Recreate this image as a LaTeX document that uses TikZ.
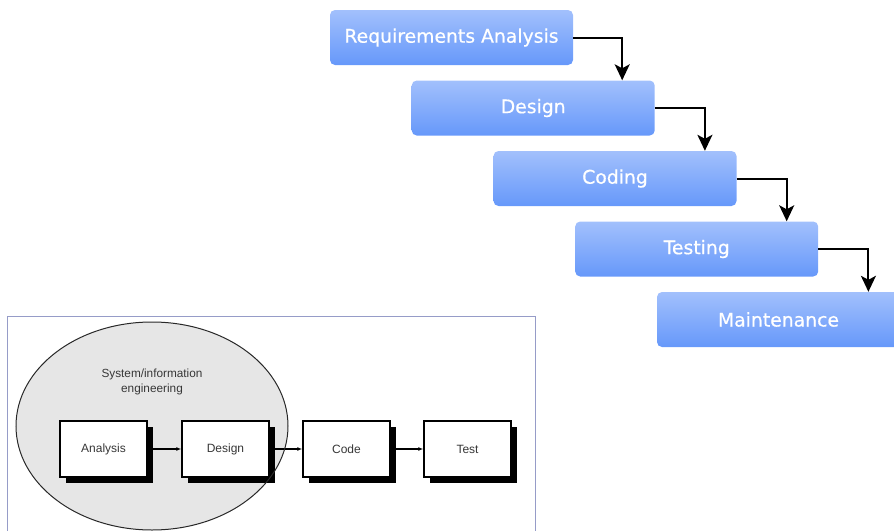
\documentclass[tikz,border=0pt]{standalone}
\usepackage{fontspec}
\setmainfont{DejaVu Sans}
\newfontfamily\phasefont[UprightFeatures={FakeBold=0.6}]{DejaVu Sans}
\newfontfamily\figfont{Liberation Sans}
\usetikzlibrary{arrows.meta,shadows}

\definecolor{phasetop}{RGB}{162,192,252}
\definecolor{phasebot}{RGB}{102,152,250}
\definecolor{framecol}{RGB}{150,156,200}
\definecolor{blobfill}{RGB}{230,230,230}
\definecolor{blobline}{RGB}{40,40,40}
\definecolor{labelcol}{RGB}{55,55,55}

\tikzset{
  phase/.style={rounded corners=5pt, top color=phasetop, bottom color=phasebot,
    minimum width=243pt, minimum height=55pt, inner sep=0pt,
    text=white, font=\phasefont\fontsize{18.8}{20}\selectfont},
  flow/.style={line width=2pt, -{Stealth[length=16pt,width=15pt,inset=4pt]}},
  stagebox/.style={draw=black, line width=1.5pt, fill=white,
    minimum width=87pt, minimum height=56pt, inner sep=0pt,
    text=labelcol, font=\figfont\fontsize{12}{13}\selectfont,
    drop shadow={shadow xshift=5.5pt, shadow yshift=-5.5pt, fill=black, opacity=1}},
  thinflow/.style={line width=1.1pt, -{Latex[length=5pt,width=4pt]}},
  caption/.style={text=labelcol, font=\figfont\fontsize{11.8}{14.5}\selectfont, align=center}
}

\begin{document}
\begin{tikzpicture}[x=1pt,y=-1pt]
\useasboundingbox (0,0) rectangle (894,530);

% waterfall phases
\node[phase] (ra) at (451.5,37.5)  {Requirements Analysis};
\node[phase] (de) at (533.2,108)   {Design};
\node[phase] (co) at (615,178.5)   {Coding};
\node[phase] (te) at (696.7,249)   {Testing};
\node[phase] (ma) at (778.5,319.5) {Maintenance};

\coordinate (k1) at ([xshift=49pt]ra.east);
\coordinate (k2) at ([xshift=50pt]de.east);
\coordinate (k3) at ([xshift=50pt]co.east);
\coordinate (k4) at ([xshift=50pt]te.east);
\draw[flow] (ra.east) -| (k1 |- de.north);
\draw[flow] (de.east) -| (k2 |- co.north);
\draw[flow] (co.east) -| (k3 |- te.north);
\draw[flow] (te.east) -| (k4 |- ma.north);

% linear sequential model
\draw[framecol, line width=1pt] (7,316) rectangle (535,540);
\fill[blobfill] (152,426) ellipse [x radius=136, y radius=104];

\node[caption] (sie) at (152,382) {System/information\\engineering};

\node[stagebox] (an) at (103.5,449) {Analysis};
\node[stagebox] (ds) at (225.5,449) {Design};
\node[stagebox] (cd) at (346.5,449) {Code};
\node[stagebox] (ts) at (467.5,449) {Test};

\draw[thinflow] ([xshift=5.5pt]an.east) -- (ds.west);
\draw[thinflow] ([xshift=5.5pt]ds.east) -- (cd.west);
\draw[thinflow] ([xshift=5.5pt]cd.east) -- (ts.west);

\draw[blobline, line width=1pt] (152,426) ellipse [x radius=136, y radius=104];
\end{tikzpicture}
\end{document}
